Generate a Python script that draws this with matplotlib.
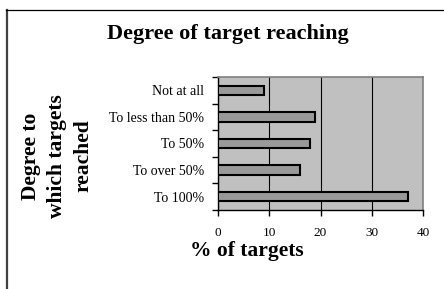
import numpy as np
import matplotlib.pyplot as plt
from matplotlib.lines import Line2D

# data
categories = ['Not at all', 'To less than 50%', 'To 50%', 'To over 50%', 'To 100%']
values = [9, 19, 18, 16, 37]
xticks = [0, 10, 20, 30, 40]

plt.rcParams['font.family'] = ['Liberation Serif', 'DejaVu Serif']

fig = plt.figure(figsize=(4.44, 2.89), dpi=100)
fig.patch.set_facecolor('white')

# outer chart frame (cut off at right and bottom in the reference)
fig.lines.append(Line2D([7 / 444, 7 / 444], [0, 1 - 10 / 289], transform=fig.transFigure,
                        color='#404040', linewidth=1.6))
fig.lines.append(Line2D([6 / 444, 1], [1 - 10 / 289, 1 - 10 / 289], transform=fig.transFigure,
                        color='black', linewidth=0.9))

ax = fig.add_axes([218 / 444, 1 - 210 / 289, 205 / 444, 133 / 289])
ax.set_facecolor('#c0c0c0')

y = np.arange(len(categories))
ax.barh(y, values, height=0.35, color='#999999', edgecolor='black', linewidth=1.5, zorder=3)

ax.set_xlim(0, 40)
ax.set_ylim(len(categories) - 0.5, -0.5)
ax.set_xticks(xticks)
ax.set_xticklabels([str(t) for t in xticks], fontsize=9.5)
ax.set_yticks(y)
ax.set_yticklabels(categories, fontsize=10)
ax.tick_params(axis='y', length=0, pad=10)
ax.set_yticks(np.arange(-0.5, len(categories), 1), minor=True)
ax.tick_params(axis='y', which='minor', length=4, direction='out', width=1)
ax.tick_params(axis='x', length=4, width=1, pad=8)
ax.xaxis.grid(True, color='black', linewidth=0.8, zorder=1)
ax.set_axisbelow(True)

for side in ['top', 'right']:
    ax.spines[side].set_color('#808080')
    ax.spines[side].set_linewidth(1.2)
for side in ['left', 'bottom']:
    ax.spines[side].set_color('black')
    ax.spines[side].set_linewidth(1)

fig.text(228 / 444, 1 - 34 / 289, 'Degree of target reaching', ha='center', va='center',
         fontsize=16, fontweight='bold')
fig.text(247 / 444, 1 - 251 / 289, '% of targets', ha='center', va='center',
         fontsize=15.5, fontweight='bold')
fig.text(57 / 444, 1 - 156 / 289, 'Degree to\nwhich targets\nreached', ha='center', va='center',
         rotation=90, fontsize=15.5, fontweight='bold', linespacing=1.4)

plt.savefig('out.png', dpi=100)
